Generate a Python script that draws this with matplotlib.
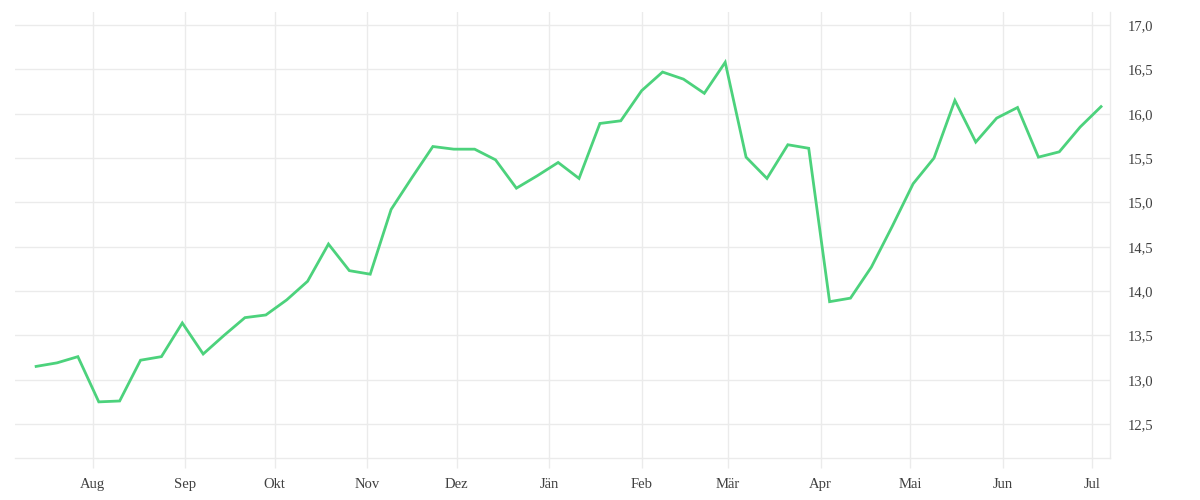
import numpy as np
import pandas as pd
import matplotlib
matplotlib.use("Agg")
import matplotlib.pyplot as plt
import matplotlib.dates as mdates
from matplotlib.ticker import FuncFormatter

plt.rcParams['font.family'] = ['Liberation Serif', 'DejaVu Serif']

# wöchentliche Werte, ab 13.07.2023
start_date = "2023-07-13"
values = [
    13.15, 13.19, 13.26, 12.75, 12.76, 13.22, 13.26, 13.64, 13.29, 13.50,
    13.70, 13.73, 13.90, 14.11, 14.53, 14.23, 14.19, 14.92, 15.28, 15.63,
    15.60, 15.60, 15.48, 15.16, 15.30, 15.45, 15.27, 15.89, 15.92, 16.26,
    16.47, 16.39, 16.23, 16.58, 15.51, 15.27, 15.65, 15.61, 13.88, 13.92,
    14.27, 14.73, 15.21, 15.50, 16.15, 15.68, 15.95, 16.07, 15.51, 15.57,
    15.85, 16.08,
]
month_labels = ["Aug", "Sep", "Okt", "Nov", "Dez", "Jän",
                "Feb", "Mär", "Apr", "Mai", "Jun", "Jul"]
y_ticks = [12.5, 13.0, 13.5, 14.0, 14.5, 15.0, 15.5, 16.0, 16.5, 17.0]

dates = pd.date_range(start_date, periods=len(values), freq="7D")
month_ticks = pd.date_range("2023-08-01", periods=len(month_labels), freq="MS")

GRID = "#ebebeb"
TEXT = "#404040"

fig = plt.figure(figsize=(12, 5), dpi=100)
ax = fig.add_axes([0.0125, 0.084, 0.9125, 0.892])

ax.plot(dates, values, color="#4cd27c", lw=2.0, solid_joinstyle="miter")

ax.set_xlim(pd.Timestamp("2023-07-05 22:00"), pd.Timestamp("2024-07-07"))
ax.set_ylim(12.117, 17.147)

ax.set_xticks(month_ticks)
ax.set_xticklabels(month_labels)
ax.set_yticks(y_ticks)
ax.yaxis.set_major_formatter(FuncFormatter(lambda v, p: f"{v:.1f}".replace(".", ",")))
ax.yaxis.tick_right()

ax.grid(True, color=GRID, lw=1)
ax.set_axisbelow(True)
for s in ["top", "left"]:
    ax.spines[s].set_visible(False)
for s in ["right", "bottom"]:
    ax.spines[s].set_color(GRID)
    ax.spines[s].set_linewidth(1)

ax.tick_params(axis="x", colors=GRID, length=7, width=1, labelcolor=TEXT,
               labelsize=10.5, pad=7.5)
ax.tick_params(axis="y", length=0, labelcolor=TEXT, labelsize=10.5, pad=12.5)
for lbl in ax.get_yticklabels():
    lbl.set_horizontalalignment("left")

fig.savefig("out.png", dpi=100)
